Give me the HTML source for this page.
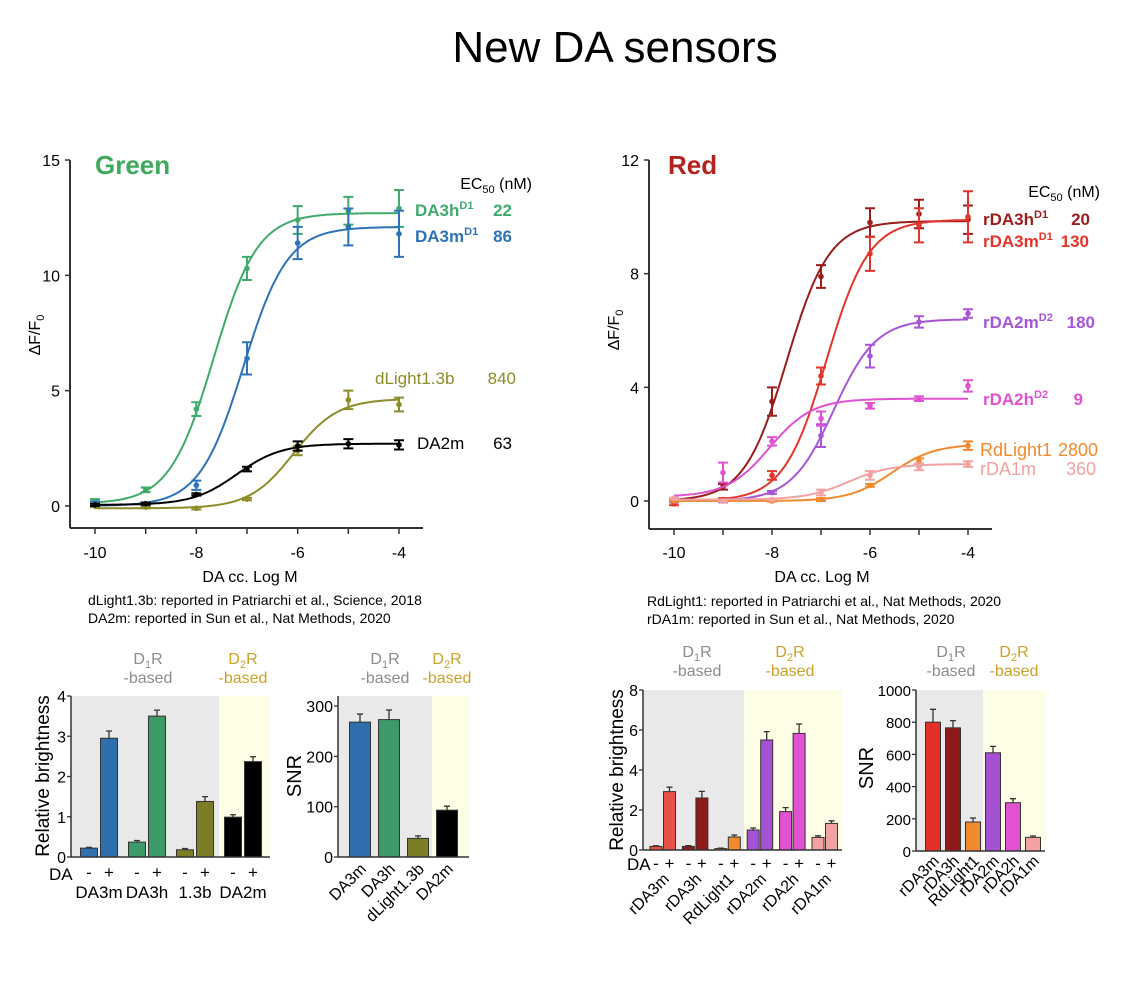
<!DOCTYPE html>
<html><head><meta charset="utf-8"><style>
body{margin:0;background:#fff;width:1148px;height:1000px;overflow:hidden;font-family:"Liberation Sans",sans-serif}
svg text{font-family:"Liberation Sans",sans-serif}
</style></head><body>
<svg id="fig" width="1148" height="1000" viewBox="0 0 1148 1000" xmlns="http://www.w3.org/2000/svg">
<text x="615" y="62" font-size="44" text-anchor="middle">New DA sensors</text>
<g id="g"></g>
</svg>
<script>
// ---------- dose-response data ----------
const doseX = [-10,-9,-8,-7,-6,-5,-4];
const greenNames = ["DA3h","DA3m","dLight1.3b","DA2m"];
const greenColors = ["#3faa6c","#2f72b8","#8c8c28","#000000"];
const greenTop = [12.7,12.1,4.65,2.7];
const greenBottom = [0.1,0.0,-0.1,0.05];
const greenLogEC = [-7.66,-7.07,-6.08,-7.2];
const greenVals = [[0.2,0.7,4.2,10.3,12.4,12.8,12.9],[0.1,0.05,0.9,6.4,11.4,12.1,11.8],[0,-0.05,-0.1,0.3,2.4,4.6,4.4],[0.05,0.1,0.5,1.6,2.6,2.7,2.65]];
const greenErr = [[0.1,0.1,0.3,0.5,0.6,0.6,0.8],[0.1,0.1,0.2,0.7,0.7,0.8,1.0],[0.05,0.05,0.05,0.05,0.2,0.4,0.3],[0.05,0.05,0.05,0.1,0.2,0.2,0.2]];
const redNames = ["rDA3h","rDA3m","rDA2m","rDA2h","RdLight1","rDA1m"];
const redColors = ["#9a1d1d","#e3352b","#a656d6","#e052d2","#ef8a2e","#f2a2a2"];
const redTop = [9.85,9.9,6.4,3.6,2.0,1.3];
const redBottom = [0.0,0.0,0.0,0.15,0.0,0.05];
const redLogEC = [-7.7,-6.89,-6.74,-8.05,-5.55,-6.44];
const redVals = [[0,0.5,3.5,7.9,9.8,10.1,9.9],[-0.1,0.05,0.9,4.4,8.7,9.7,10.0],[0,0,0.3,2.3,5.1,6.3,6.6],[0.05,1.0,2.1,2.9,3.35,3.6,4.05],[0,0,0,0.05,0.55,1.4,1.95],[0.1,0,0.05,0.3,0.9,1.2,1.3]];
const redErr = [[0.05,0.1,0.5,0.4,0.5,0.5,0.5],[0.05,0.05,0.15,0.3,0.6,0.6,0.9],[0.05,0.05,0.05,0.4,0.4,0.2,0.15],[0.05,0.35,0.15,0.25,0.1,0.08,0.2],[0.02,0.02,0.02,0.05,0.05,0.1,0.15],[0.02,0.02,0.02,0.1,0.15,0.12,0.1]];
// ---------- bar data ----------
const gbLabels = ["DA3m","DA3h","1.3b","DA2m"];
const gbColors = ["#2f6fae","#3c9a68","#7d7d26","#000000"];
const gbMinus = [0.22,0.37,0.18,0.99];
const gbPlus = [2.95,3.5,1.38,2.37];
const gbMinusErr = [0.02,0.04,0.03,0.06];
const gbPlusErr = [0.18,0.15,0.12,0.12];
const gsLabels = ["DA3m","DA3h","dLight1.3b","DA2m"];
const gsVals = [268,273,37,93];
const gsErr = [16,19,5,8];
const rbLabels = ["rDA3m","rDA3h","RdLight1","rDA2m","rDA2h","rDA1m"];
const rbColors = ["#e8504a","#8f1a1a","#ef8a2e","#a452d2","#e052d2","#f2a2a2"];
const rbMinus = [0.18,0.18,0.07,1.0,1.92,0.63];
const rbPlus = [2.92,2.6,0.65,5.5,5.83,1.33];
const rbMinusErr = [0.03,0.04,0.02,0.1,0.2,0.08];
const rbPlusErr = [0.22,0.33,0.1,0.42,0.47,0.13];
const rsLabels = ["rDA3m","rDA3h","RdLight1","rDA2m","rDA2h","rDA1m"];
const rsColors = ["#e3302a","#8f1a1a","#ef8a2e","#a452d2","#e052d2","#f2a2a2"];
const rsVals = [800,765,180,610,300,85];
const rsErr = [80,45,25,40,25,8];

const NS="http://www.w3.org/2000/svg";
const root=document.getElementById('g');
function mk(tag,attrs,parent,txt){const e=document.createElementNS(NS,tag);for(const k in attrs)e.setAttribute(k,attrs[k]);if(txt!==undefined)e.textContent=txt;(parent||root).appendChild(e);return e;}
function lin(d0,d1,r0,r1){return v=>r0+(v-d0)*(r1-r0)/(d1-d0);}

function doseChart(o){
  const grp=mk('g',{},root);
  
  
  const X=lin(-10,-4,o.x0,o.x1), Y=lin(0,o.ymax,o.y0,160);
  mk('line',{x1:o.ax,y1:160,x2:o.ax,y2:o.axY,stroke:'#333','stroke-width':2},grp);
  mk('line',{x1:o.ax,y1:o.axY,x2:o.axR,y2:o.axY,stroke:'#333','stroke-width':2},grp);
  o.yt.forEach(t=>{mk('line',{x1:o.ax-5,y1:Y(t),x2:o.ax,y2:Y(t),stroke:'#333','stroke-width':1.5},grp);
    const tl=mk('text',{x:o.ax-10,y:Y(t)+6,'font-size':16,'text-anchor':'end'},grp,String(t));});
  [-10,-8,-6,-4].forEach(t=>{const tl=mk('text',{x:X(t),y:558,'font-size':16,'text-anchor':'middle'},grp,String(t));});
  doseX.forEach(t=>mk('line',{x1:X(t),y1:o.axY,x2:X(t),y2:o.axY+6,stroke:'#333','stroke-width':1.5},grp));
  o.names.forEach((n,i)=>{
    const s=mk('g',{},grp);
    
    
    let d='';
    for(let k=0;k<=120;k++){const lx=-10+6*k/120;const v=o.bot[i]+(o.top[i]-o.bot[i])/(1+Math.pow(10,o.ec[i]-lx));d+=(k?'L':'M')+X(lx).toFixed(1)+','+Y(v).toFixed(1);}
    mk('path',{d:d,fill:'none',stroke:o.cols[i],'stroke-width':2},s);
    o.vals[i].forEach((v,j)=>{const cx=X(doseX[j]),e=o.err[i][j];
      mk('path',{d:`M${cx},${Y(v-e)}V${Y(v+e)}M${cx-5},${Y(v-e)}h10M${cx-5},${Y(v+e)}h10`,stroke:o.cols[i],'stroke-width':2,fill:'none'},s);
      const c=mk('circle',{cx:cx,cy:Y(v),r:2.8,fill:o.cols[i]},s);});
  });
  const yl=mk('text',{x:0,y:0,'font-size':16,'text-anchor':'middle',transform:`translate(${o.ax-30},${o.ylY}) rotate(-90)`},grp);
  
  yl.innerHTML='ΔF/F<tspan font-size="11" dy="4">0</tspan>';
  const xl=mk('text',{x:o.xlX,y:582,'font-size':16,'text-anchor':'middle'},grp,'DA cc. Log M');
  
  return grp;
}
doseChart({name:'green-dose-chart',x0:95,x1:399,y0:506,ymax:15,ax:70,axY:528,axR:423,yt:[0,5,10,15],names:greenNames,cols:greenColors,top:greenTop,bot:greenBottom,ec:greenLogEC,vals:greenVals,err:greenErr,ylY:335,xlX:250});
doseChart({name:'red-dose-chart',x0:674,x1:968,y0:501,ymax:12,ax:649,axY:529,axR:992,yt:[0,4,8,12],names:redNames,cols:redColors,top:redTop,bot:redBottom,ec:redLogEC,vals:redVals,err:redErr,ylY:330,xlX:822});

function T(x,y,html,attrs,name){const t=mk('text',Object.assign({x:x,y:y},attrs||{}));t.innerHTML=html;return t;}
T(95,174,'Green',{'font-size':26,'font-weight':'bold',fill:'#3faa5c'},'green-panel-title');
T(668,174,'Red',{'font-size':26,'font-weight':'bold',fill:'#b3231f'},'red-panel-title');
const sub='<tspan font-size="11" dy="4">50</tspan><tspan dy="-4"> (nM)</tspan>';
T(532,189,'EC'+sub,{'font-size':16,'text-anchor':'end'},'ec50-header-green');
T(1100,197,'EC'+sub,{'font-size':16,'text-anchor':'end'},'ec50-header-red');
const sup=s=>`<tspan font-size="11" dy="-7">${s}</tspan><tspan dy="7"></tspan>`;
function leg(x,y,name,vx,val,col,bold,n,fs){T(x,y,name,{'font-size':fs||17,fill:col,'font-weight':bold?'bold':'normal'},n+'-legend-label');T(vx,y,val,{'font-size':fs||17,fill:col,'font-weight':bold?'bold':'normal','text-anchor':'end'},n+'-ec50-value');}
leg(415,216,'DA3h'+sup('D1'),512,'22','#3faa6c',1,'da3h');
leg(415,242,'DA3m'+sup('D1'),512,'86','#2f72b8',1,'da3m');
leg(375,384,'dLight1.3b',516,'840','#8c8c28',0,'dlight13b');
leg(417,449,'DA2m',512,'63','#000',0,'da2m');
leg(983,225,'rDA3h'+sup('D1'),1090,'20','#9a1d1d',1,'rda3h');
leg(983,247,'rDA3m'+sup('D1'),1089,'130','#e3352b',1,'rda3m');
leg(983,328,'rDA2m'+sup('D2'),1095,'180','#a656d6',1,'rda2m');
leg(983,405,'rDA2h'+sup('D2'),1083,'9','#e052d2',1,'rda2h');
leg(980,456,'RdLight1',1098,'2800','#ef8a2e',0,'rdlight1',18);
leg(980,475,'rDA1m',1096,'360','#f2a2a2',0,'rda1m',18);
T(88,605,'dLight1.3b: reported in Patriarchi et al., Science, 2018',{'font-size':14},'caption-dlight');
T(88,623,'DA2m: reported in Sun et al., Nat Methods, 2020',{'font-size':14},'caption-da2m');
T(647,606,'RdLight1: reported in Patriarchi et al., Nat Methods, 2020',{'font-size':14},'caption-rdlight');
T(647,624,'rDA1m: reported in Sun et al., Nat Methods, 2020',{'font-size':14},'caption-rda1m');

function header(x1,x2,y){T(x1,y,'D<tspan font-size="11" dy="4">1</tspan><tspan dy="-4">R</tspan>',{'font-size':16,fill:'#8c8c8c','text-anchor':'middle'},'d1r-group-label');
  T(x1,y+19,'-based',{'font-size':16,fill:'#8c8c8c','text-anchor':'middle'},'d1r-based-label');
  T(x2,y,'D<tspan font-size="11" dy="4">2</tspan><tspan dy="-4">R</tspan>',{'font-size':16,fill:'#c9a227','text-anchor':'middle'},'d2r-group-label');
  T(x2,y+19,'-based',{'font-size':16,fill:'#c9a227','text-anchor':'middle'},'d2r-based-label');}

function barPanel(o){
  const grp=mk('g',{},root);
  
  
  const Y=lin(0,o.ymax,o.y0,o.yTop);
  mk('rect',{x:o.ax,y:o.bgTop,width:o.split-o.ax,height:o.y0-o.bgTop,fill:'#e9e9e9'},grp);
  mk('rect',{x:o.split,y:o.bgTop,width:o.right-o.split,height:o.y0-o.bgTop,fill:'#fefee6'},grp);
  o.bars.forEach(b=>{
    const r=mk('rect',{x:b.cx-o.bw/2,y:Y(b.v),width:o.bw,height:o.y0-Y(b.v),fill:b.c,stroke:'#333','stroke-width':1},grp);
    
    mk('path',{d:`M${b.cx},${Y(b.v)}V${Y(b.v+b.e)}M${b.cx-3},${Y(b.v+b.e)}h6`,stroke:'#333','stroke-width':1.3,fill:'none'},grp);
  });
  mk('line',{x1:o.ax,y1:o.bgTop,x2:o.ax,y2:o.y0,stroke:'#333','stroke-width':1.5},grp);
  mk('line',{x1:o.ax,y1:o.y0,x2:o.right,y2:o.y0,stroke:'#333','stroke-width':1.5},grp);
  o.ticks.forEach(t=>{mk('line',{x1:o.ax-4,y1:Y(t),x2:o.ax,y2:Y(t),stroke:'#333','stroke-width':1.3},grp);
    T(o.ax-5,Y(t)+6,String(t),{'font-size':o.tfs,'text-anchor':'end'},'y-tick-label');});
  T(0,0,o.ylab,{'font-size':o.ylabSize,'text-anchor':'middle',transform:`translate(${o.ylX},${o.ylY}) rotate(-90)`},'y-axis-title');
  return Y;
}
// green brightness
(function(){const bars=[];gbLabels.forEach((l,i)=>{const c=89+i*48;bars.push({cx:c,v:gbMinus[i],e:gbMinusErr[i],c:gbColors[i],n:l+'-minus'});bars.push({cx:c+20,v:gbPlus[i],e:gbPlusErr[i],c:gbColors[i],n:l+'-plus'});});
barPanel({name:'green-brightness-chart',ymax:4,y0:857,yTop:696,bgTop:696,ax:71,split:219,right:270,bw:17,bars:bars,ticks:[0,1,2,3,4],tfs:16,ylab:'Relative brightness',ylabSize:19,ylX:49,ylY:776});
T(49,880,'DA',{'font-size':17},'da-row-label');
gbLabels.forEach((l,i)=>{const c=89+i*48;T(c,878,'-',{'font-size':17,'text-anchor':'middle'},'minus-sign');T(c+20,878,'+',{'font-size':17,'text-anchor':'middle'},'plus-sign');T(c+10,898,l,{'font-size':17,'text-anchor':'middle'},'x-category-label');});
header(148,243,664);})();
// green SNR
(function(){const bars=gsLabels.map((l,i)=>({cx:360+i*29,v:gsVals[i],e:gsErr[i],c:gbColors[i],n:l}));
barPanel({name:'green-snr-chart',ymax:300,y0:857,yTop:706,bgTop:696,ax:338,split:432,right:469,bw:21,bars:bars,ticks:[0,100,200,300],tfs:16,ylab:'SNR',ylabSize:20,ylX:301,ylY:776});
gsLabels.forEach((l,i)=>T(0,0,l,{'font-size':16,'text-anchor':'end',transform:`translate(${367+i*29},870) rotate(-45)`},'x-category-label'));
header(385,447,664);})();
// red brightness
(function(){const bars=[];rbLabels.forEach((l,i)=>{const c=656+i*32.4;bars.push({cx:c,v:rbMinus[i],e:rbMinusErr[i],c:rbColors[i],n:l+'-minus'});bars.push({cx:c+13.5,v:rbPlus[i],e:rbPlusErr[i],c:rbColors[i],n:l+'-plus'});});
barPanel({name:'red-brightness-chart',ymax:8,y0:850,yTop:690,bgTop:690,ax:643,split:744,right:842,bw:12,bars:bars,ticks:[0,2,4,6,8],tfs:16,ylab:'Relative brightness',ylabSize:19,ylX:623,ylY:770});
T(627,870,'DA',{'font-size':17},'da-row-label');
rbLabels.forEach((l,i)=>{const c=656+i*32.4;T(c,869,'-',{'font-size':17,'text-anchor':'middle'},'minus-sign');T(c+13.5,869,'+',{'font-size':17,'text-anchor':'middle'},'plus-sign');T(0,0,l,{'font-size':16,'text-anchor':'end',transform:`translate(${c+14},880) rotate(-45)`},'x-category-label');});
header(697,790,657);})();
// red SNR
(function(){const bars=rsLabels.map((l,i)=>({cx:933+i*20,v:rsVals[i],e:rsErr[i],c:rsColors[i],n:l}));
barPanel({name:'red-snr-chart',ymax:1000,y0:851,yTop:690,bgTop:690,ax:916,split:983,right:1045,bw:15,bars:bars,ticks:[0,200,400,600,800,1000],tfs:15,ylab:'SNR',ylabSize:20,ylX:873,ylY:768});
rsLabels.forEach((l,i)=>T(0,0,l,{'font-size':16,'text-anchor':'end',transform:`translate(${940+i*20},862) rotate(-45)`},'x-category-label'));
header(951,1014,657);})();
</script>
</body></html>
